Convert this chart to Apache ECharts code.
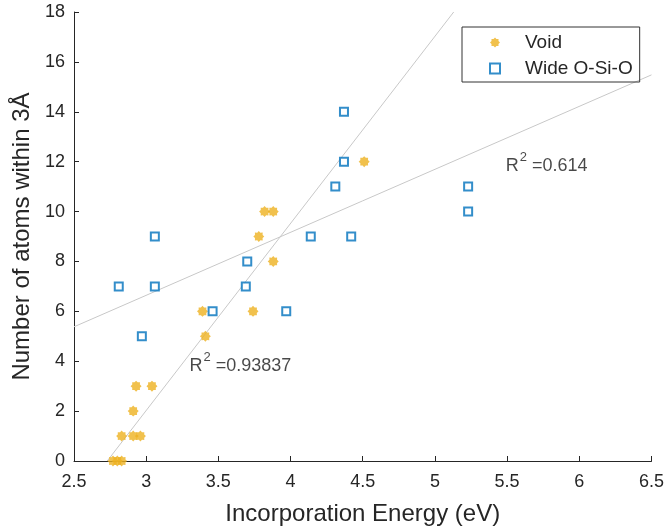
<!DOCTYPE html>
<html>
<head>
  <meta charset="UTF-8">
  <title>Incorporation Energy</title>
  <style>
    html, body { margin: 0; padding: 0; background: #fff; }
    #chart { width: 667px; height: 531px; }
  </style>
  <script src="https://cdn.jsdelivr.net/npm/echarts@6/dist/echarts.min.js"></script>
</head>
<body>
  <div id="chart"></div>
  <script>
    // Void points (energy, atom count)
    var voidX = [2.77, 2.80, 2.83, 2.83, 2.91, 2.96, 2.91, 2.93, 3.04, 3.41, 3.39, 3.74, 3.88, 3.78, 3.82, 3.88, 4.51];
    var voidY = [0, 0, 0, 1, 1, 1, 2, 3, 3, 5, 6, 6, 8, 9, 10, 10, 12];
    // Wide O-Si-O points
    var wideX = [2.97, 3.46, 3.97, 2.81, 3.06, 3.69, 3.70, 3.06, 4.14, 4.42, 5.23, 4.31, 5.23, 4.37, 4.37];
    var wideY = [5, 6, 6, 7, 7, 7, 8, 9, 9, 9, 10, 11, 11, 12, 14];
    // fitted lines as drawn (endpoints)
    var voidFitX = [2.73, 5.13];
    var voidFitY = [0, 18];
    var wideFitX = [2.5, 6.5];
    var wideFitY = [5.38, 15.48];
    // R^2 annotations
    var r2Text = ['0.93837', '0.614'];
    var r2Pos = [[3.30, 3.85], [5.49, 11.87]];

    function zip(xs, ys) {
      return xs.map(function (x, i) { return [x, ys[i]]; });
    }

    // filled asterisk-like marker
    var pts = [];
    for (var i = 0; i < 16; i++) {
      var a = i * Math.PI / 8;
      var r = i % 2 === 0 ? 10 : 7.5;
      pts.push((10 + r * Math.cos(a)).toFixed(2) + ',' + (10 + r * Math.sin(a)).toFixed(2));
    }
    var starPath = 'path://M' + pts.join('L') + 'Z';

    var font = 'Liberation Sans, Arial, sans-serif';
    var axisColor = '#262626';

    var chart = echarts.init(document.getElementById('chart'));
    chart.setOption({
      animation: false,
      textStyle: { fontFamily: font },
      grid: { left: 74, right: 13, top: 12, bottom: 70 },
      legend: {
        orient: 'vertical',
        left: 462,
        top: 27,
        padding: [6, 7, 4, 27],
        itemGap: 7,
        itemWidth: 10,
        itemHeight: 10,
        borderColor: '#333',
        borderWidth: 1,
        textStyle: { fontSize: 19, color: axisColor, padding: [0, 0, 0, 20], fontFamily: font },
        data: ['Void', 'Wide O-Si-O']
      },
      xAxis: {
        type: 'value',
        min: 2.5,
        max: 6.5,
        interval: 0.5,
        name: 'Incorporation Energy (eV)',
        nameLocation: 'middle',
        nameGap: 41,
        nameTextStyle: { fontSize: 24, color: axisColor },
        axisLine: { lineStyle: { color: axisColor } },
        axisTick: { inside: true, length: 5, lineStyle: { color: axisColor } },
        axisLabel: { fontSize: 18, color: axisColor, margin: 12 },
        splitLine: { show: false }
      },
      yAxis: {
        type: 'value',
        min: 0,
        max: 18,
        interval: 2,
        name: 'Number of atoms within 3Å',
        nameLocation: 'middle',
        nameGap: 40,
        nameTextStyle: { fontSize: 24, color: axisColor },
        axisLine: { show: true, lineStyle: { color: axisColor } },
        axisTick: { show: true, inside: true, length: 5, lineStyle: { color: axisColor } },
        axisLabel: { fontSize: 18, color: axisColor, margin: 9 },
        splitLine: { show: false }
      },
      series: [
        {
          name: 'Void fit',
          type: 'line',
          data: zip(voidFitX, voidFitY),
          symbol: 'none',
          silent: true,
          lineStyle: { color: '#c8c8c8', width: 1 },
          z: 1
        },
        {
          name: 'Wide fit',
          type: 'line',
          data: zip(wideFitX, wideFitY),
          symbol: 'none',
          silent: true,
          lineStyle: { color: '#c8c8c8', width: 1 },
          z: 1
        },
        {
          name: 'Void',
          type: 'scatter',
          data: zip(voidX, voidY),
          symbol: starPath,
          symbolSize: 11,
          itemStyle: { color: '#EDB120' },
          z: 3
        },
        {
          name: 'Wide O-Si-O',
          type: 'scatter',
          data: zip(wideX, wideY),
          symbol: 'rect',
          symbolSize: 8,
          itemStyle: { color: '#fff', borderColor: '#0072BD', borderWidth: 2 },
          z: 4
        },
        {
          name: 'R2',
          type: 'scatter',
          silent: true,
          symbolSize: 0,
          data: r2Pos,
          label: {
            show: true,
            position: 'right',
            distance: 0,
            offset: [0, -2],
            formatter: function (p) {
              return '{a|R}{s|2}{a| =' + r2Text[p.dataIndex] + '}';
            },
            rich: {
              a: { fontSize: 18, color: '#1a1a1a', fontFamily: font, lineHeight: 24, verticalAlign: 'bottom' },
              s: { fontSize: 13, color: '#1a1a1a', fontFamily: font, verticalAlign: 'top', padding: [0, 0, 0, 1] }
            }
          },
          z: 5
        }
      ]
    });
  </script>
</body>
</html>
